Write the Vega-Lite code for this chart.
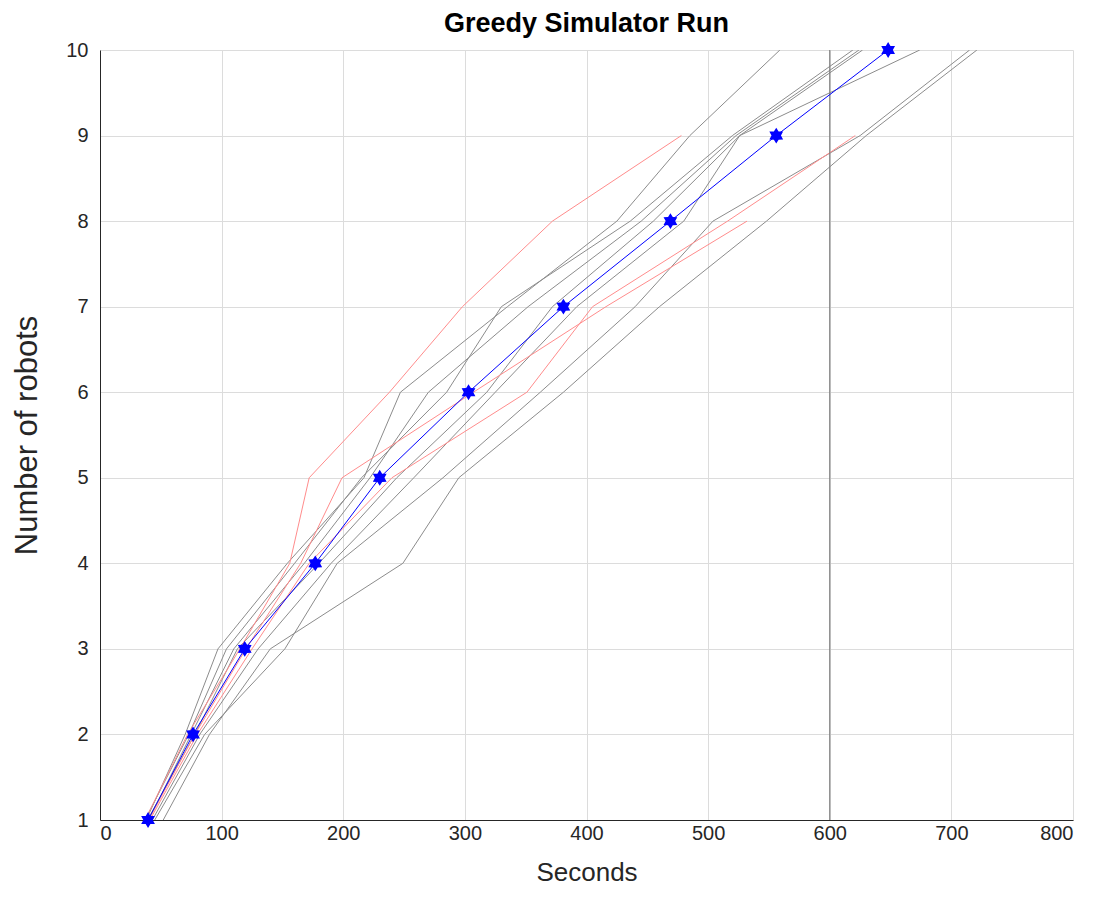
{
  "$schema": "https://vega.github.io/schema/vega-lite/v6.json",
  "width": 973,
  "height": 770,
  "autosize": "none",
  "padding": {"left": 100, "top": 50, "right": 27, "bottom": 94},
  "background": "white",
  "title": {"text": "Greedy Simulator Run", "font": "Liberation Sans", "fontSize": 27, "fontWeight": "bold", "color": "#000000", "offset": 2, "anchor": "middle"},
  "config": {"view": {"stroke": null}, "font": "Liberation Sans"},
  "datasets": {
    "runs": [
      {"run": "G1", "type": "gray", "s": 38, "robots": 1}, {"run": "G1", "type": "gray", "s": 70, "robots": 2}, {"run": "G1", "type": "gray", "s": 97, "robots": 3}, {"run": "G1", "type": "gray", "s": 154, "robots": 4}, {"run": "G1", "type": "gray", "s": 217, "robots": 5}, {"run": "G1", "type": "gray", "s": 247, "robots": 6}, {"run": "G1", "type": "gray", "s": 335, "robots": 7}, {"run": "G1", "type": "gray", "s": 425, "robots": 8}, {"run": "G1", "type": "gray", "s": 485, "robots": 9}, {"run": "G1", "type": "gray", "s": 559, "robots": 10},
      {"run": "G2", "type": "gray", "s": 37, "robots": 1}, {"run": "G2", "type": "gray", "s": 73, "robots": 2}, {"run": "G2", "type": "gray", "s": 104, "robots": 3}, {"run": "G2", "type": "gray", "s": 160, "robots": 4}, {"run": "G2", "type": "gray", "s": 215, "robots": 5}, {"run": "G2", "type": "gray", "s": 285, "robots": 6}, {"run": "G2", "type": "gray", "s": 330, "robots": 7}, {"run": "G2", "type": "gray", "s": 436, "robots": 8}, {"run": "G2", "type": "gray", "s": 520, "robots": 9}, {"run": "G2", "type": "gray", "s": 619, "robots": 10},
      {"run": "G3", "type": "gray", "s": 40, "robots": 1}, {"run": "G3", "type": "gray", "s": 75, "robots": 2}, {"run": "G3", "type": "gray", "s": 110, "robots": 3}, {"run": "G3", "type": "gray", "s": 168, "robots": 4}, {"run": "G3", "type": "gray", "s": 222, "robots": 5}, {"run": "G3", "type": "gray", "s": 270, "robots": 6}, {"run": "G3", "type": "gray", "s": 352, "robots": 7}, {"run": "G3", "type": "gray", "s": 445, "robots": 8}, {"run": "G3", "type": "gray", "s": 523, "robots": 9}, {"run": "G3", "type": "gray", "s": 624, "robots": 10},
      {"run": "G4", "type": "gray", "s": 39, "robots": 1}, {"run": "G4", "type": "gray", "s": 78, "robots": 2}, {"run": "G4", "type": "gray", "s": 113, "robots": 3}, {"run": "G4", "type": "gray", "s": 180, "robots": 4}, {"run": "G4", "type": "gray", "s": 244, "robots": 5}, {"run": "G4", "type": "gray", "s": 318, "robots": 6}, {"run": "G4", "type": "gray", "s": 372, "robots": 7}, {"run": "G4", "type": "gray", "s": 455, "robots": 8}, {"run": "G4", "type": "gray", "s": 526, "robots": 9}, {"run": "G4", "type": "gray", "s": 627, "robots": 10},
      {"run": "G5", "type": "gray", "s": 43, "robots": 1}, {"run": "G5", "type": "gray", "s": 82, "robots": 2}, {"run": "G5", "type": "gray", "s": 130, "robots": 3}, {"run": "G5", "type": "gray", "s": 190, "robots": 4}, {"run": "G5", "type": "gray", "s": 258, "robots": 5}, {"run": "G5", "type": "gray", "s": 325, "robots": 6}, {"run": "G5", "type": "gray", "s": 392, "robots": 7}, {"run": "G5", "type": "gray", "s": 480, "robots": 8}, {"run": "G5", "type": "gray", "s": 526, "robots": 9}, {"run": "G5", "type": "gray", "s": 674, "robots": 10},
      {"run": "G6", "type": "gray", "s": 45, "robots": 1}, {"run": "G6", "type": "gray", "s": 86, "robots": 2}, {"run": "G6", "type": "gray", "s": 152, "robots": 3}, {"run": "G6", "type": "gray", "s": 195, "robots": 4}, {"run": "G6", "type": "gray", "s": 282, "robots": 5}, {"run": "G6", "type": "gray", "s": 362, "robots": 6}, {"run": "G6", "type": "gray", "s": 440, "robots": 7}, {"run": "G6", "type": "gray", "s": 504, "robots": 8}, {"run": "G6", "type": "gray", "s": 625, "robots": 9}, {"run": "G6", "type": "gray", "s": 715, "robots": 10},
      {"run": "G7", "type": "gray", "s": 52, "robots": 1}, {"run": "G7", "type": "gray", "s": 90, "robots": 2}, {"run": "G7", "type": "gray", "s": 140, "robots": 3}, {"run": "G7", "type": "gray", "s": 249, "robots": 4}, {"run": "G7", "type": "gray", "s": 295, "robots": 5}, {"run": "G7", "type": "gray", "s": 381, "robots": 6}, {"run": "G7", "type": "gray", "s": 460, "robots": 7}, {"run": "G7", "type": "gray", "s": 548, "robots": 8}, {"run": "G7", "type": "gray", "s": 630, "robots": 9}, {"run": "G7", "type": "gray", "s": 721, "robots": 10},
      {"run": "RA", "type": "red", "s": 37, "robots": 1}, {"run": "RA", "type": "red", "s": 72, "robots": 2}, {"run": "RA", "type": "red", "s": 115, "robots": 3}, {"run": "RA", "type": "red", "s": 156, "robots": 4}, {"run": "RA", "type": "red", "s": 172, "robots": 5}, {"run": "RA", "type": "red", "s": 238, "robots": 6}, {"run": "RA", "type": "red", "s": 298, "robots": 7}, {"run": "RA", "type": "red", "s": 372, "robots": 8}, {"run": "RA", "type": "red", "s": 478, "robots": 9},
      {"run": "RB", "type": "red", "s": 40, "robots": 1}, {"run": "RB", "type": "red", "s": 78, "robots": 2}, {"run": "RB", "type": "red", "s": 120, "robots": 3}, {"run": "RB", "type": "red", "s": 165, "robots": 4}, {"run": "RB", "type": "red", "s": 199, "robots": 5}, {"run": "RB", "type": "red", "s": 307, "robots": 6}, {"run": "RB", "type": "red", "s": 416, "robots": 7}, {"run": "RB", "type": "red", "s": 532, "robots": 8},
      {"run": "RC", "type": "red", "s": 41, "robots": 1}, {"run": "RC", "type": "red", "s": 80, "robots": 2}, {"run": "RC", "type": "red", "s": 125, "robots": 3}, {"run": "RC", "type": "red", "s": 172, "robots": 4}, {"run": "RC", "type": "red", "s": 240, "robots": 5}, {"run": "RC", "type": "red", "s": 351, "robots": 6}, {"run": "RC", "type": "red", "s": 405, "robots": 7}, {"run": "RC", "type": "red", "s": 516, "robots": 8}, {"run": "RC", "type": "red", "s": 621, "robots": 9}
    ],
    "mean": [
      {"s": 39.5, "robots": 1}, {"s": 76.5, "robots": 2}, {"s": 119, "robots": 3}, {"s": 177, "robots": 4}, {"s": 230, "robots": 5},
      {"s": 303, "robots": 6}, {"s": 381, "robots": 7}, {"s": 469, "robots": 8}, {"s": 556, "robots": 9}, {"s": 648, "robots": 10}
    ],
    "limit": [{"s": 600}]
  },
  "layer": [
    {
      "data": {"name": "runs"},
      "mark": {"type": "line", "strokeWidth": 1, "clip": true},
      "encoding": {
        "x": {"field": "s", "type": "quantitative", "scale": {"domain": [0, 800], "nice": false, "zero": false},
          "axis": {"title": "Seconds", "values": [0, 100, 200, 300, 400, 500, 600, 700, 800], "format": "d", "grid": true, "gridColor": "#dcdcdc", "gridOpacity": 1, "domainColor": "#262626", "ticks": false, "labelPadding": 3, "labelFont": "Liberation Sans", "labelFontSize": 20, "labelColor": "#262626", "titleFont": "Liberation Sans", "titleFontSize": 26, "titleFontWeight": "normal", "titleColor": "#262626", "titlePadding": 16}},
        "y": {"field": "robots", "type": "quantitative", "scale": {"domain": [1, 10], "nice": false, "zero": false},
          "axis": {"title": "Number of robots", "values": [1, 2, 3, 4, 5, 6, 7, 8, 9, 10], "format": "d", "grid": true, "gridColor": "#dcdcdc", "gridOpacity": 1, "domainColor": "#262626", "ticks": false, "labelPadding": 12, "labelFont": "Liberation Sans", "labelFontSize": 20, "labelColor": "#262626", "titleFont": "Liberation Sans", "titleFontSize": 31, "titleFontWeight": "normal", "titleColor": "#262626", "titlePadding": 22}},
        "color": {"field": "type", "type": "nominal", "scale": {"domain": ["gray", "red"], "range": ["#8c8c8c", "#ff8c8c"]}, "legend": null},
        "detail": {"field": "run", "type": "nominal"}
      }
    },
    {
      "data": {"name": "limit"},
      "mark": {"type": "rule", "color": "#7f7f7f", "strokeWidth": 1.2},
      "encoding": {"x": {"field": "s", "type": "quantitative"}}
    },
    {
      "data": {"name": "mean"},
      "mark": {"type": "line", "color": "#0000ff", "strokeWidth": 1,
        "point": {"filled": true, "color": "#0000ff", "size": 250, "opacity": 1,
          "shape": "M0,-1L0.3,-0.52L0.87,-0.5L0.6,0L0.87,0.5L0.3,0.52L0,1L-0.3,0.52L-0.87,0.5L-0.6,0L-0.87,-0.5L-0.3,-0.52Z"}},
      "encoding": {
        "x": {"field": "s", "type": "quantitative"},
        "y": {"field": "robots", "type": "quantitative"}
      }
    }
  ]
}
